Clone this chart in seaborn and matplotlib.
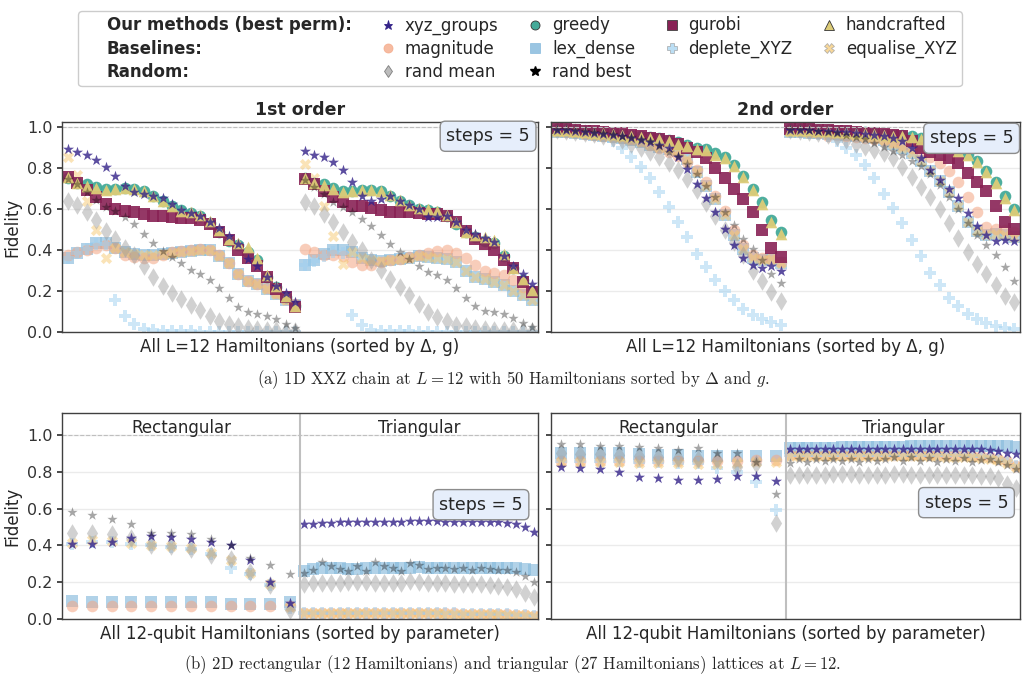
import numpy as np
import matplotlib
matplotlib.use("Agg")
import matplotlib.pyplot as plt
from matplotlib.lines import Line2D
import seaborn as sns

# ---- 1D XXZ chain, 1st order (50 Hamiltonians) ----
fo_xyz = [0.895, 0.878, 0.865, 0.84, 0.805, 0.76, 0.715, 0.685, 0.675, 0.665, 0.655, 0.625, 0.595, 0.58, 0.565,
          0.535, 0.51, 0.47, 0.43, 0.355, 0.32, 0.27, 0.225, 0.19, 0.145,
          0.885, 0.865, 0.855, 0.83, 0.79, 0.73, 0.665, 0.64, 0.65, 0.665, 0.64, 0.62, 0.60, 0.56, 0.56,
          0.565, 0.535, 0.50, 0.48, 0.46, 0.44, 0.37, 0.32, 0.285, 0.235]
fo_greedy = [0.75, 0.725, 0.72, 0.71, 0.70, 0.70, 0.705, 0.70, 0.69, 0.665, 0.64, 0.615, 0.595, 0.58, 0.565,
             0.53, 0.49, 0.445, 0.425, 0.39, 0.35, 0.27, 0.22, 0.17, 0.125,
             0.75, 0.728, 0.72, 0.705, 0.69, 0.69, 0.695, 0.695, 0.69, 0.665, 0.64, 0.62, 0.60, 0.595, 0.585,
             0.565, 0.525, 0.49, 0.465, 0.445, 0.435, 0.37, 0.31, 0.255, 0.20]
fo_gurobi = [0.755, 0.725, 0.695, 0.66, 0.625, 0.60, 0.59, 0.585, 0.575, 0.565, 0.565, 0.56, 0.555, 0.555, 0.545,
             0.525, 0.49, 0.45, 0.40, 0.36, 0.32, 0.27, 0.21, 0.17, 0.12,
             0.745, 0.723, 0.69, 0.66, 0.634, 0.617, 0.613, 0.605, 0.595, 0.588, 0.588, 0.585, 0.582, 0.575, 0.575,
             0.565, 0.535, 0.495, 0.455, 0.43, 0.40, 0.35, 0.31, 0.245, 0.196]
fo_hand = [0.755, 0.725, 0.715, 0.705, 0.695, 0.70, 0.705, 0.70, 0.69, 0.665, 0.64, 0.615, 0.59, 0.585, 0.57,
           0.54, 0.50, 0.455, 0.435, 0.415, 0.36, 0.28, 0.225, 0.175, 0.125,
           0.75, 0.728, 0.718, 0.70, 0.685, 0.69, 0.693, 0.693, 0.69, 0.667, 0.645, 0.622, 0.605, 0.598, 0.59,
           0.57, 0.535, 0.49, 0.475, 0.465, 0.45, 0.38, 0.31, 0.26, 0.205]
fo_mag = [0.375, 0.39, 0.40, 0.41, 0.425, 0.41, 0.375, 0.365, 0.36, 0.36, 0.375, 0.39, 0.395, 0.40, 0.405,
          0.40, 0.375, 0.335, 0.285, 0.25, 0.235, 0.215, 0.19, 0.16, 0.135,
          0.403, 0.39, 0.377, 0.377, 0.37, 0.342, 0.326, 0.326, 0.342, 0.35, 0.358, 0.366, 0.377, 0.387, 0.394,
          0.40, 0.387, 0.36, 0.326, 0.298, 0.29, 0.277, 0.253, 0.22, 0.196]
fo_lex = [0.36, 0.385, 0.405, 0.435, 0.435, 0.41, 0.39, 0.38, 0.375, 0.375, 0.38, 0.385, 0.39, 0.395, 0.40,
          0.40, 0.37, 0.335, 0.285, 0.25, 0.235, 0.21, 0.185, 0.155, 0.13,
          0.325, 0.35, 0.38, 0.40, 0.40, 0.39, 0.36, 0.35, 0.345, 0.35, 0.355, 0.36, 0.37, 0.365, 0.36,
          0.355, 0.34, 0.30, 0.27, 0.26, 0.245, 0.23, 0.20, 0.18, 0.155]
fo_dep = [0.36, 0.385, 0.405, 0.43, 0.43, 0.155, 0.08, 0.04, 0.015, 0.008, 0.005, 0.004, 0.003, 0.003, 0.002,
          0.002, 0.002, 0.001, 0.001, 0.001, 0.001, 0.001, 0.001, 0.001, 0.001,
          0.325, 0.345, 0.37, 0.39, 0.385, 0.085, 0.035, 0.012, 0.006, 0.004, 0.003, 0.003, 0.002, 0.002, 0.002,
          0.002, 0.001, 0.001, 0.001, 0.001, 0.001, 0.001, 0.001, 0.001, 0.001]
fo_eq = [0.855, 0.765, 0.64, 0.50, 0.36, 0.41, 0.39, 0.38, 0.375, 0.375, 0.38, 0.385, 0.39, 0.395, 0.40,
         0.40, 0.37, 0.335, 0.285, 0.25, 0.235, 0.21, 0.185, 0.155, 0.13,
         0.82, 0.75, 0.615, 0.47, 0.33, 0.39, 0.36, 0.35, 0.345, 0.35, 0.355, 0.36, 0.37, 0.365, 0.36,
         0.355, 0.34, 0.30, 0.27, 0.26, 0.245, 0.23, 0.20, 0.18, 0.155]
fo_rmean = [0.64, 0.62, 0.585, 0.545, 0.495, 0.455, 0.41, 0.375, 0.32, 0.27, 0.225, 0.19, 0.16, 0.13, 0.105,
            0.08, 0.055, 0.04, 0.028, 0.02, 0.014, 0.01, 0.008, 0.005, 0.004,
            0.635, 0.615, 0.578, 0.537, 0.49, 0.44, 0.40, 0.35, 0.305, 0.26, 0.22, 0.18, 0.135, 0.10, 0.075,
            0.052, 0.035, 0.03, 0.02, 0.015, 0.012, 0.01, 0.008, 0.005, 0.004]
fo_rbest = [0.745, 0.72, 0.685, 0.645, 0.61, 0.59, 0.56, 0.525, 0.48, 0.435, 0.395, 0.365, 0.335, 0.305, 0.285,
            0.255, 0.215, 0.165, 0.12, 0.10, 0.09, 0.08, 0.065, 0.04, 0.02,
            0.74, 0.707, 0.675, 0.635, 0.61, 0.588, 0.553, 0.517, 0.475, 0.43, 0.39, 0.355, 0.32, 0.295, 0.277,
            0.253, 0.215, 0.165, 0.128, 0.103, 0.10, 0.09, 0.07, 0.045, 0.025]

# ---- 1D XXZ chain, 2nd order ----
so_xyz = [0.985, 0.985, 0.98, 0.975, 0.97, 0.965, 0.96, 0.955, 0.945, 0.935, 0.925, 0.912, 0.896, 0.853, 0.796,
          0.723, 0.653, 0.585, 0.504, 0.423, 0.361, 0.326, 0.313, 0.321, 0.30,
          0.985, 0.985, 0.985, 0.98, 0.98, 0.975, 0.975, 0.97, 0.965, 0.96, 0.955, 0.945, 0.93, 0.90, 0.848,
          0.79, 0.742, 0.70, 0.652, 0.58, 0.518, 0.475, 0.442, 0.447, 0.443]
so_greedy = [0.99, 0.99, 0.985, 0.98, 0.978, 0.975, 0.97, 0.965, 0.962, 0.955, 0.95, 0.945, 0.935, 0.925, 0.914,
             0.90, 0.893, 0.872, 0.853, 0.817, 0.763, 0.70, 0.634, 0.545, 0.488,
             0.99, 0.99, 0.99, 0.985, 0.985, 0.983, 0.98, 0.977, 0.975, 0.97, 0.967, 0.963, 0.96, 0.955, 0.948,
             0.94, 0.925, 0.91, 0.89, 0.87, 0.835, 0.786, 0.734, 0.662, 0.60]
so_gurobi = [0.995, 0.99, 0.987, 0.982, 0.979, 0.975, 0.971, 0.97, 0.96, 0.955, 0.946, 0.943, 0.933, 0.92, 0.897,
             0.88, 0.85, 0.80, 0.75, 0.70, 0.65, 0.585, 0.50, 0.41, 0.365,
             0.99, 0.99, 0.99, 0.985, 0.985, 0.983, 0.98, 0.977, 0.973, 0.97, 0.967, 0.963, 0.955, 0.933, 0.90,
             0.88, 0.865, 0.851, 0.823, 0.774, 0.733, 0.688, 0.616, 0.537, 0.504]
so_hand = [0.985, 0.985, 0.98, 0.976, 0.973, 0.97, 0.965, 0.96, 0.957, 0.95, 0.945, 0.94, 0.93, 0.92, 0.908,
           0.895, 0.887, 0.866, 0.847, 0.81, 0.756, 0.693, 0.627, 0.538, 0.48,
           0.985, 0.985, 0.985, 0.98, 0.98, 0.978, 0.975, 0.972, 0.97, 0.965, 0.962, 0.958, 0.955, 0.95, 0.942,
           0.934, 0.918, 0.903, 0.883, 0.863, 0.828, 0.779, 0.727, 0.655, 0.594]
so_mag = [0.98, 0.978, 0.975, 0.965, 0.96, 0.955, 0.95, 0.945, 0.94, 0.93, 0.915, 0.90, 0.88, 0.86, 0.83,
          0.79, 0.734, 0.665, 0.59, 0.497, 0.423, 0.374, 0.36, 0.358, 0.34,
          0.985, 0.98, 0.975, 0.97, 0.955, 0.96, 0.955, 0.95, 0.945, 0.94, 0.935, 0.925, 0.915, 0.90, 0.88,
          0.855, 0.825, 0.785, 0.73, 0.66, 0.585, 0.512, 0.504, 0.50, 0.488]
so_lex = [0.975, 0.975, 0.97, 0.965, 0.96, 0.955, 0.95, 0.945, 0.935, 0.925, 0.915, 0.905, 0.895, 0.885, 0.845,
          0.78, 0.715, 0.65, 0.57, 0.475, 0.405, 0.36, 0.35, 0.355, 0.335,
          0.975, 0.975, 0.97, 0.97, 0.965, 0.965, 0.96, 0.955, 0.95, 0.945, 0.935, 0.92, 0.90, 0.875, 0.835,
          0.786, 0.737, 0.685, 0.616, 0.537, 0.492, 0.473, 0.476, 0.473, 0.464]
so_dep = [0.975, 0.975, 0.97, 0.965, 0.96, 0.955, 0.93, 0.90, 0.856, 0.807, 0.75, 0.685, 0.61, 0.537, 0.464,
          0.382, 0.317, 0.252, 0.198, 0.154, 0.113, 0.083, 0.064, 0.047, 0.036,
          0.975, 0.975, 0.97, 0.965, 0.955, 0.93, 0.90, 0.865, 0.815, 0.754, 0.676, 0.606, 0.53, 0.448, 0.37,
          0.29, 0.227, 0.167, 0.129, 0.088, 0.064, 0.044, 0.031, 0.018, 0.015]
so_eq = [0.975, 0.975, 0.97, 0.965, 0.96, 0.955, 0.95, 0.945, 0.935, 0.925, 0.915, 0.905, 0.895, 0.885, 0.845,
         0.78, 0.715, 0.65, 0.57, 0.475, 0.405, 0.36, 0.35, 0.355, 0.335,
         0.975, 0.975, 0.97, 0.97, 0.965, 0.965, 0.96, 0.955, 0.95, 0.945, 0.935, 0.92, 0.90, 0.875, 0.835,
         0.786, 0.737, 0.685, 0.616, 0.537, 0.492, 0.473, 0.476, 0.473, 0.464]
so_rmean = [0.985, 0.98, 0.975, 0.97, 0.965, 0.955, 0.945, 0.935, 0.92, 0.90, 0.88, 0.856, 0.824, 0.79, 0.745,
            0.693, 0.63, 0.565, 0.50, 0.44, 0.375, 0.30, 0.25, 0.195, 0.15,
            0.985, 0.98, 0.975, 0.97, 0.96, 0.95, 0.935, 0.92, 0.905, 0.89, 0.873, 0.848, 0.807, 0.758, 0.709,
            0.66, 0.60, 0.53, 0.46, 0.39, 0.333, 0.284, 0.227, 0.178, 0.145]
so_rbest = [0.99, 0.99, 0.985, 0.98, 0.975, 0.97, 0.965, 0.955, 0.95, 0.94, 0.934, 0.91, 0.877, 0.86, 0.82,
            0.772, 0.715, 0.658, 0.588, 0.524, 0.455, 0.407, 0.35, 0.285, 0.237,
            0.99, 0.99, 0.985, 0.98, 0.975, 0.97, 0.96, 0.95, 0.94, 0.922, 0.905, 0.885, 0.865, 0.835, 0.81,
            0.77, 0.717, 0.657, 0.60, 0.53, 0.472, 0.427, 0.374, 0.317, 0.25]

# ---- 2D lattices, left panel: 12 rectangular + 27 triangular ----
b1_xyz = [0.41, 0.41, 0.42, 0.44, 0.45, 0.445, 0.435, 0.42, 0.40, 0.32, 0.20, 0.085,
          0.515, 0.518, 0.52, 0.52, 0.525, 0.525, 0.525, 0.525, 0.525, 0.528, 0.528, 0.528, 0.532, 0.532,
          0.535, 0.535, 0.53, 0.53, 0.53, 0.53, 0.53, 0.528, 0.525, 0.522, 0.515, 0.50, 0.475]
b1_mag = [0.07, 0.07, 0.07, 0.07, 0.07, 0.07, 0.07, 0.07, 0.068, 0.068, 0.068, 0.068,
          0.035, 0.035, 0.035, 0.035, 0.033, 0.033, 0.033, 0.033, 0.033, 0.033, 0.033, 0.033, 0.032, 0.032,
          0.03, 0.03, 0.03, 0.03, 0.028, 0.028, 0.028, 0.027, 0.026, 0.025, 0.022, 0.02, 0.018]
b1_lex = [0.10, 0.095, 0.095, 0.095, 0.095, 0.095, 0.09, 0.09, 0.08, 0.08, 0.08, 0.09,
          0.26, 0.27, 0.275, 0.275, 0.275, 0.27, 0.27, 0.275, 0.275, 0.28, 0.28, 0.275, 0.28, 0.285,
          0.28, 0.28, 0.28, 0.28, 0.28, 0.28, 0.28, 0.275, 0.275, 0.275, 0.275, 0.27, 0.265]
b1_dep = [0.41, 0.42, 0.42, 0.41, 0.40, 0.39, 0.38, 0.355, 0.28, 0.245, 0.185, 0.06,
          0.035, 0.035, 0.035, 0.035, 0.033, 0.033, 0.033, 0.033, 0.033, 0.033, 0.033, 0.033, 0.032, 0.032,
          0.03, 0.03, 0.03, 0.03, 0.028, 0.028, 0.028, 0.027, 0.026, 0.025, 0.022, 0.02, 0.018]
b1_eq = [0.415, 0.43, 0.425, 0.415, 0.405, 0.395, 0.385, 0.36, 0.32, 0.25, 0.19, 0.065,
         0.033, 0.033, 0.033, 0.033, 0.032, 0.032, 0.032, 0.032, 0.032, 0.032, 0.032, 0.032, 0.03, 0.03,
         0.03, 0.03, 0.028, 0.028, 0.027, 0.027, 0.027, 0.026, 0.025, 0.024, 0.021, 0.02, 0.017]
b1_rmean = [0.47, 0.468, 0.46, 0.44, 0.405, 0.395, 0.38, 0.35, 0.325, 0.255, 0.185, 0.05,
            0.19, 0.195, 0.195, 0.195, 0.195, 0.2, 0.2, 0.2, 0.195, 0.195, 0.195, 0.195, 0.205, 0.2,
            0.195, 0.195, 0.195, 0.19, 0.19, 0.19, 0.19, 0.185, 0.18, 0.175, 0.165, 0.14, 0.12]
b1_rbest = [0.58, 0.567, 0.545, 0.515, 0.468, 0.466, 0.463, 0.435, 0.405, 0.33, 0.295, 0.245,
            0.25, 0.265, 0.31, 0.29, 0.27, 0.26, 0.29, 0.26, 0.31, 0.29, 0.275, 0.26, 0.305, 0.295,
            0.27, 0.28, 0.28, 0.27, 0.275, 0.265, 0.275, 0.27, 0.265, 0.265, 0.255, 0.235, 0.20]

# ---- 2D lattices, right panel ----
b2_xyz = [0.824, 0.822, 0.818, 0.80, 0.773, 0.764, 0.755, 0.755, 0.76, 0.776, 0.776, 0.75,
          0.925, 0.925, 0.925, 0.925, 0.925, 0.925, 0.925, 0.925, 0.925, 0.925, 0.925, 0.925, 0.925, 0.925,
          0.925, 0.925, 0.925, 0.925, 0.925, 0.925, 0.925, 0.925, 0.923, 0.92, 0.915, 0.905, 0.895]
b2_mag = [0.86, 0.86, 0.86, 0.86, 0.86, 0.86, 0.86, 0.86, 0.86, 0.86, 0.862, 0.862,
          0.892, 0.892, 0.892, 0.892, 0.892, 0.892, 0.892, 0.892, 0.892, 0.892, 0.892, 0.892, 0.892, 0.892,
          0.892, 0.892, 0.892, 0.892, 0.89, 0.89, 0.89, 0.888, 0.886, 0.88, 0.87, 0.86, 0.83]
b2_lex = [0.905, 0.905, 0.903, 0.90, 0.895, 0.892, 0.89, 0.888, 0.886, 0.884, 0.886, 0.886,
          0.932, 0.932, 0.932, 0.932, 0.932, 0.932, 0.935, 0.935, 0.935, 0.935, 0.935, 0.935, 0.935, 0.935,
          0.938, 0.938, 0.938, 0.938, 0.938, 0.938, 0.938, 0.938, 0.94, 0.94, 0.94, 0.94, 0.935]
b2_dep = [0.86, 0.86, 0.86, 0.86, 0.855, 0.855, 0.85, 0.85, 0.82, 0.80, 0.745, 0.59,
          0.892, 0.892, 0.892, 0.892, 0.892, 0.892, 0.892, 0.892, 0.892, 0.892, 0.892, 0.892, 0.892, 0.892,
          0.892, 0.892, 0.892, 0.892, 0.89, 0.89, 0.89, 0.888, 0.886, 0.88, 0.87, 0.86, 0.83]
b2_eq = [0.855, 0.855, 0.855, 0.855, 0.85, 0.85, 0.85, 0.845, 0.845, 0.85, 0.855, 0.855,
         0.885, 0.885, 0.885, 0.885, 0.885, 0.885, 0.885, 0.885, 0.885, 0.885, 0.885, 0.885, 0.885, 0.885,
         0.885, 0.885, 0.885, 0.885, 0.883, 0.883, 0.883, 0.88, 0.878, 0.872, 0.862, 0.85, 0.825]
b2_rmean = [0.90, 0.895, 0.895, 0.89, 0.885, 0.88, 0.875, 0.87, 0.865, 0.825, 0.845, 0.52,
            0.785, 0.785, 0.785, 0.785, 0.785, 0.79, 0.79, 0.79, 0.785, 0.785, 0.785, 0.785, 0.79, 0.79,
            0.785, 0.785, 0.785, 0.785, 0.785, 0.785, 0.785, 0.785, 0.78, 0.78, 0.765, 0.735, 0.71]
b2_rbest = [0.95, 0.95, 0.942, 0.942, 0.933, 0.927, 0.918, 0.927, 0.905, 0.90, 0.855, 0.68,
            0.85, 0.87, 0.855, 0.87, 0.86, 0.87, 0.86, 0.87, 0.855, 0.87, 0.86, 0.87, 0.88, 0.86,
            0.88, 0.86, 0.875, 0.855, 0.87, 0.86, 0.875, 0.855, 0.865, 0.87, 0.855, 0.84, 0.815]

n_rect, n_tri = 12, 27

STYLE = {
    "lex_dense":    dict(marker="s", color="#88BBDD", alpha=0.65, s=70, linewidth=0),
    "magnitude":    dict(marker="o", color="#F4A582", alpha=0.55, s=70, linewidth=0),
    "deplete_XYZ":  dict(marker="P", color="#9FD0F0", alpha=0.5, s=75, linewidth=0),
    "equalise_XYZ": dict(marker="X", color="#F6C870", alpha=0.5, s=65, linewidth=0),
    "rand mean":    dict(marker="d", color="0.6", alpha=0.45, s=90, linewidth=0),
    "greedy":       dict(marker="o", color="#44AA99", alpha=0.95, s=70, linewidth=0),
    "gurobi":       dict(marker="s", color="#882255", alpha=0.9, s=75, linewidth=0),
    "handcrafted":  dict(marker="^", color="#DDCC77", alpha=0.95, s=70, linewidth=0),
    "xyz_groups":   dict(marker="*", color="#332288", alpha=0.8, s=70, linewidth=0),
    "rand best":    dict(marker="*", color="black", alpha=0.35, s=60, linewidth=0),
}

sns.set_theme(style="whitegrid", context="notebook")
plt.rcParams.update({
    "font.family": ["DejaVu Sans"],
    "axes.edgecolor": "0.25",
    "axes.linewidth": 1.0,
    "grid.color": "#ebebeb",
    "ytick.left": True,
    "ytick.major.size": 3.5,
    "ytick.color": "0.2",
    "ytick.labelsize": 11.5,
    "axes.labelsize": 12,
    "mathtext.fontset": "cm",
})

W, H = 1026, 696
fig = plt.figure(figsize=(W / 100, H / 100), dpi=100)


def px_axes(l, t, r, b):
    return fig.add_axes([l / W, 1 - b / H, (r - l) / W, (b - t) / H])


ax_tl = px_axes(62, 122, 538, 332)
ax_tr = px_axes(551, 122, 1020, 332)
ax_bl = px_axes(62, 413, 538, 619)
ax_br = px_axes(551, 413, 1020, 619)


def draw(ax, x, series):
    for name, vals in series:
        sns.scatterplot(x=x, y=vals, ax=ax, legend=False, **STYLE[name])


x_chain = np.arange(len(fo_xyz))
top = [(ax_tl, [("lex_dense", fo_lex), ("magnitude", fo_mag), ("deplete_XYZ", fo_dep), ("equalise_XYZ", fo_eq),
                ("rand mean", fo_rmean), ("greedy", fo_greedy), ("gurobi", fo_gurobi), ("handcrafted", fo_hand),
                ("xyz_groups", fo_xyz), ("rand best", fo_rbest)], "1st order"),
       (ax_tr, [("lex_dense", so_lex), ("magnitude", so_mag), ("deplete_XYZ", so_dep), ("equalise_XYZ", so_eq),
                ("rand mean", so_rmean), ("greedy", so_greedy), ("gurobi", so_gurobi), ("handcrafted", so_hand),
                ("xyz_groups", so_xyz), ("rand best", so_rbest)], "2nd order")]

for ax, series, title in top:
    draw(ax, x_chain, series)
    ax.set_xlim(-0.6, len(x_chain) - 0.4)
    ax.set_ylim(0, 1.025)
    ax.set_title(title, fontsize=12.5, fontweight="bold", pad=5)
    ax.set_xlabel("All L=12 Hamiltonians (sorted by Δ, g)", labelpad=4)

# lattice x positions: each family spread over its half of the axis
x_lat = np.concatenate([(np.arange(n_rect) + 0.5) / n_rect, 1 + (np.arange(n_tri) + 0.5) / n_tri])
bottom = [(ax_bl, [("lex_dense", b1_lex), ("magnitude", b1_mag), ("deplete_XYZ", b1_dep), ("equalise_XYZ", b1_eq),
                   ("rand mean", b1_rmean), ("xyz_groups", b1_xyz), ("rand best", b1_rbest)]),
          (ax_br, [("lex_dense", b2_lex), ("magnitude", b2_mag), ("deplete_XYZ", b2_dep), ("equalise_XYZ", b2_eq),
                   ("rand mean", b2_rmean), ("xyz_groups", b2_xyz), ("rand best", b2_rbest)])]

for ax, series in bottom:
    draw(ax, x_lat, series)
    ax.set_xlim(0, 2)
    ax.set_ylim(0, 1.12)
    ax.axvline(1, color="0.75", lw=1.5, zorder=1)
    ax.text(0.5, 1.04, "Rectangular", ha="center", va="center", fontsize=12)
    ax.text(1.5, 1.04, "Triangular", ha="center", va="center", fontsize=12)
    ax.set_xlabel("All 12-qubit Hamiltonians (sorted by parameter)", labelpad=4)

for ax in (ax_tl, ax_tr, ax_bl, ax_br):
    ax.set_xticks([])
    ax.set_yticks([0.0, 0.2, 0.4, 0.6, 0.8, 1.0])
    ax.grid(axis="x", visible=False)
    ax.axhline(1.0, color="0.75", ls="--", lw=0.8, zorder=1)
    ax.set_ylabel("")

for ax in (ax_tl, ax_bl):
    ax.set_ylabel("Fidelity")
for ax in (ax_tr, ax_br):
    ax.tick_params(axis="y", labelleft=False)

box = dict(boxstyle="round,pad=0.35,rounding_size=0.3", facecolor="#e6eefb", edgecolor="0.55", lw=1)
ax_tl.text(0.983, 0.975, "steps = 5", transform=ax_tl.transAxes, ha="right", va="top", fontsize=12.5, bbox=box, zorder=10)
ax_tr.text(0.986, 0.965, "steps = 5", transform=ax_tr.transAxes, ha="right", va="top", fontsize=12.5, bbox=box, zorder=10)
ax_bl.text(0.968, 0.555, "steps = 5", transform=ax_bl.transAxes, ha="right", va="center", fontsize=12.5, bbox=box, zorder=10)
ax_br.text(0.975, 0.565, "steps = 5", transform=ax_br.transAxes, ha="right", va="center", fontsize=12.5, bbox=box, zorder=10)


# legend: header column + four method columns (column-major fill)
def mk(name, edge=None):
    st = STYLE[name]
    return Line2D([], [], linestyle="none", marker=st["marker"], color=st["color"], alpha=min(1, st["alpha"] + 0.2),
                  markersize=6.5, markeredgecolor=edge or st["color"], markeredgewidth=0.6)


blank = Line2D([], [], linestyle="none")
handles = [blank, blank, blank,
           mk("xyz_groups"), mk("magnitude"), mk("rand mean", "0.3"),
           mk("greedy", "0.2"), mk("lex_dense"), Line2D([], [], linestyle="none", marker="*", color="black", markersize=7),
           mk("gurobi", "0.25"), mk("deplete_XYZ", "0.6"), blank,
           mk("handcrafted", "0.2"), mk("equalise_XYZ", "0.6"), blank]
labels = ["Our methods (best perm):", "Baselines:", "Random:",
          "xyz_groups", "magnitude", "rand mean",
          "greedy", "lex_dense", "rand best",
          "gurobi", "deplete_XYZ", "",
          "handcrafted", "equalise_XYZ", ""]
leg = fig.legend(handles, labels, ncol=5, loc="upper center", bbox_to_anchor=(520 / W, 1 - 3 / H),
                 fontsize=12, handlelength=0.8, handletextpad=0.6, columnspacing=1.8, labelspacing=0.32,
                 borderpad=0.3, frameon=True, edgecolor="0.8", framealpha=1)
for t in leg.get_texts()[:3]:
    t.set_fontweight("bold")

fig.text(0.5, 1 - 380 / H, "(a) 1D XXZ chain at $L = 12$ with 50 Hamiltonians sorted by $\\Delta$ and $g$.",
         ha="center", va="center", fontsize=12, family="cmr10")
fig.text(0.5, 1 - 665 / H, "(b) 2D rectangular (12 Hamiltonians) and triangular (27 Hamiltonians) lattices at $L = 12$.",
         ha="center", va="center", fontsize=12, family="cmr10")

fig.savefig("out.png", dpi=100)
